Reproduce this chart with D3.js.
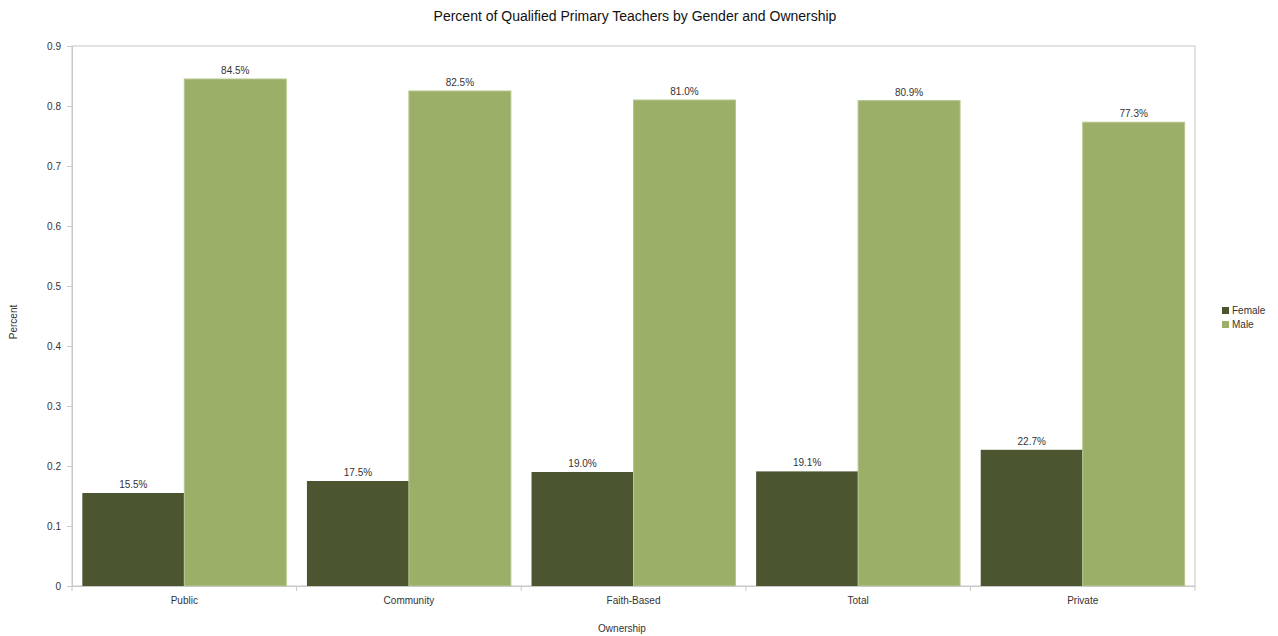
<!DOCTYPE html>
<html>
<head>
<meta charset="utf-8">
<script src="https://cdn.jsdelivr.net/npm/d3@7"></script>
<style>
  body { margin: 0; background: #fff; }
  text { font-family: "Liberation Sans", Arial, sans-serif; fill: #333; }
</style>
</head>
<body>
<div id="chart"></div>
<script>
// chart data
const categories = ["Public", "Community", "Faith-Based", "Total", "Private"];
const seriesNames = ["Female", "Male"];
const femaleValues = [0.155, 0.175, 0.190, 0.191, 0.227];
const maleValues = [0.845, 0.825, 0.810, 0.809, 0.773];
const yTicks = [0, 0.1, 0.2, 0.3, 0.4, 0.5, 0.6, 0.7, 0.8, 0.9];

const colors = { Female: "#4b5530", Male: "#9baf69" };

var totalW = 1278, totalH = 636;
var margin = {top: 46, right: 83, bottom: 50, left: 72},
  width = totalW - margin.left - margin.right,
  height = totalH - margin.top - margin.bottom;

var svg = d3.select("#chart").append("svg")
  .attr("width", totalW)
  .attr("height", totalH);

var g = svg.append("g")
  .attr("transform", "translate(" + margin.left + "," + margin.top + ")");

// build rows from arrays
var rows = categories.map(function(c, i) {
  return { cat: c, Female: femaleValues[i], Male: maleValues[i] };
});

var x0 = d3.scaleBand()
  .domain(categories)
  .range([0, width])
  .paddingInner(0.092)
  .paddingOuter(0.046);
var x1 = d3.scaleBand()
  .domain(seriesNames)
  .range([0, x0.bandwidth()])
  .padding(0);
var y = d3.scaleLinear()
  .domain([0, 0.9])
  .range([height, 0]);

// frame
g.append("rect")
  .attr("x", 0).attr("y", 0)
  .attr("width", width).attr("height", height)
  .attr("fill", "none")
  .attr("stroke", "#c8c8c8");

// bars
var groups = g.selectAll(".grp")
  .data(rows)
  .enter().append("g")
  .attr("class", "grp")
  .attr("transform", function(d) { return "translate(" + x0(d.cat) + ",0)"; });

groups.selectAll("rect")
  .data(function(d) { return seriesNames.map(function(s) { return {s: s, v: d[s]}; }); })
  .enter().append("rect")
  .attr("x", function(d) { return x1(d.s); })
  .attr("width", x1.bandwidth())
  .attr("y", function(d) { return y(d.v); })
  .attr("height", function(d) { return height - y(d.v); })
  .attr("fill", function(d) { return colors[d.s]; })
  .attr("stroke", function(d) { return d.s == "Male" ? "#b7c78f" : "none"; })
  .attr("stroke-width", 1);

groups.selectAll(".lbl")
  .data(function(d) { return seriesNames.map(function(s) { return {s: s, v: d[s]}; }); })
  .enter().append("text")
  .attr("class", "lbl")
  .attr("x", function(d) { return x1(d.s) + x1.bandwidth() / 2; })
  .attr("y", function(d) { return y(d.v) - 5; })
  .attr("text-anchor", "middle")
  .style("font-size", "10px")
  .text(function(d) { return (d.v * 100).toFixed(1) + "%"; });

// y axis
var yAxis = g.append("g")
  .call(d3.axisLeft(y).tickValues(yTicks).tickSize(5).tickPadding(6)
    .tickFormat(function(d) { return d === 0 ? "0" : d3.format(".1f")(d); }));
yAxis.select(".domain").attr("stroke", "#c8c8c8");
yAxis.selectAll(".tick line").attr("stroke", "#c8c8c8");
yAxis.selectAll("text").style("font-size", "10px").attr("fill", "#333");

// x axis with ticks at band boundaries
var xAxis = g.append("g")
  .attr("transform", "translate(0," + height + ")")
  .call(d3.axisBottom(x0).tickSize(0).tickPadding(11));
xAxis.select(".domain").attr("stroke", "#c8c8c8");
xAxis.selectAll("text").style("font-size", "10px").attr("fill", "#333");

var bounds = d3.range(categories.length + 1).map(function(i) { return i * width / categories.length; });
xAxis.selectAll(".bnd")
  .data(bounds)
  .enter().append("line")
  .attr("x1", function(d) { return d; })
  .attr("x2", function(d) { return d; })
  .attr("y1", 0).attr("y2", 5)
  .attr("stroke", "#c8c8c8");

// title
svg.append("text")
  .attr("x", 635).attr("y", 21)
  .attr("text-anchor", "middle")
  .style("font-size", "14px")
  .style("fill", "#111")
  .text("Percent of Qualified Primary Teachers by Gender and Ownership");

// axis titles
svg.append("text")
  .attr("x", 622).attr("y", 632)
  .attr("text-anchor", "middle")
  .style("font-size", "10px")
  .text("Ownership");

svg.append("text")
  .attr("transform", "translate(17,322) rotate(-90)")
  .attr("text-anchor", "middle")
  .style("font-size", "10px")
  .text("Percent");

// legend
var legend = svg.append("g")
  .attr("transform", "translate(1222,307)");
seriesNames.forEach(function(s, i) {
  legend.append("rect")
    .attr("x", 0).attr("y", i * 14)
    .attr("width", 7).attr("height", 7)
    .attr("fill", colors[s]);
  legend.append("text")
    .attr("x", 10).attr("y", i * 14 + 7)
    .style("font-size", "10px")
    .text(s);
});
</script>
</body>
</html>
